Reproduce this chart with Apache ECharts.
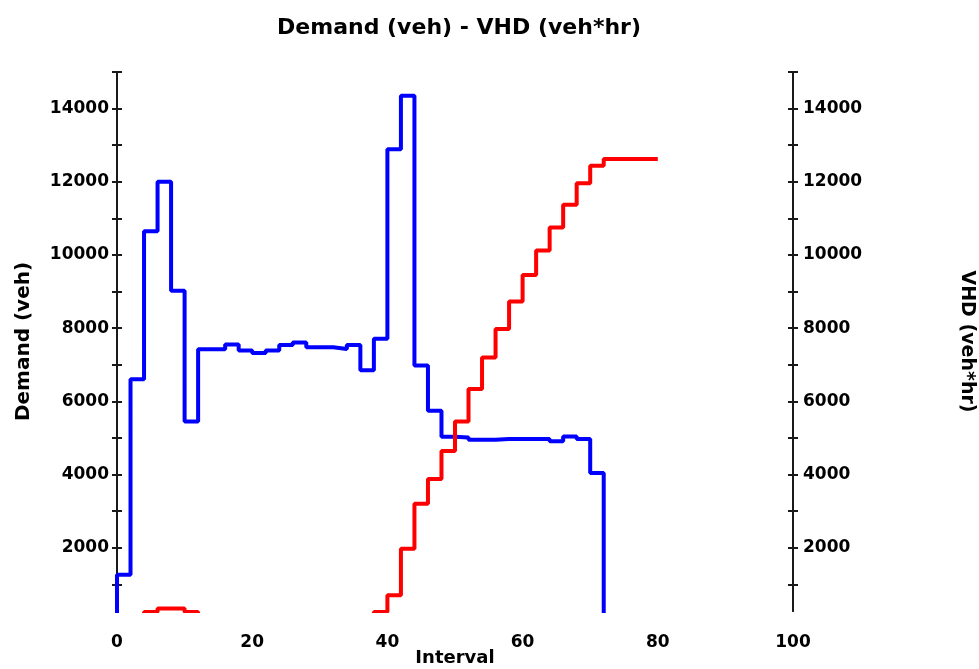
<!DOCTYPE html>
<html>
<head>
<meta charset="utf-8">
<script src="https://cdn.jsdelivr.net/npm/echarts@6/dist/echarts.min.js"></script>
<style>
  html, body { margin: 0; padding: 0; background: #fff; }
  #chart { width: 979px; height: 669px; }
</style>
</head>
<body>
<div id="chart"></div>
<script>
// ---- data ----
const chartTitle = 'Demand (veh) - VHD (veh*hr)';
const xAxisName = 'Interval';
const leftAxisName = 'Demand (veh)';
const rightAxisName = 'VHD (veh*hr)';

const xTicks = [0, 20, 40, 60, 80, 100];
const yTickValues = [1000, 2000, 3000, 4000, 5000, 6000, 7000, 8000, 9000, 10000, 11000, 12000, 13000, 14000, 15000];
const yLabelValues = [2000, 4000, 6000, 8000, 10000, 12000, 14000];

// Demand (veh): step values, each held for two intervals
const demandIntervals = [0, 0, 2, 4, 6, 8, 10, 12, 14, 16, 18, 20, 22, 24, 26, 28, 30, 32, 34, 36, 38, 40, 42, 44, 46, 48, 50, 52, 54, 56, 58, 60, 62, 64, 66, 68, 70, 72];
const demandValues    = [0, 1260, 6600, 10650, 12000, 9020, 5450, 7420, 7420, 7550, 7390, 7320, 7390, 7540, 7610, 7480, 7480, 7430, 7540, 6850, 7710, 12890, 14350, 6980, 5740, 5030, 5010, 4950, 4950, 4970, 4970, 4970, 4970, 4910, 5040, 4970, 4040, 0];

// VHD (veh*hr): cumulative step values
const vhdIntervals = [0, 2, 4, 6, 8, 10, 12, 14, 16, 18, 20, 22, 24, 26, 28, 30, 32, 34, 36, 38, 40, 42, 44, 46, 48, 50, 52, 54, 56, 58, 60, 62, 64, 66, 68, 70, 72, 74, 76, 78, 80];
const vhdValues    = [0, 0, 240, 340, 340, 240, 0, 0, 0, 0, 0, 0, 0, 0, 0, 0, 0, 0, 0, 240, 700, 1970, 3200, 3880, 4640, 5450, 6340, 7200, 7980, 8730, 9450, 10120, 10750, 11370, 11960, 12440, 12620, 12620, 12620, 12620, 12620];

// ---- chart ----
const FONT = 'DejaVu Sans';
const AX = '#1a1a1a';
const yMin = 270, yMax = 15000;

function yAxisBase(position, inside, withLabels, name, nameRotate, nameGap, nameSize) {
  return {
    type: 'value',
    position: position,
    min: yMin,
    max: yMax,
    name: withLabels ? name : '',
    nameLocation: 'middle',
    nameRotate: nameRotate,
    nameGap: nameGap,
    nameMoveOverlap: false,
    nameTextStyle: { fontFamily: FONT, fontWeight: 'bold', fontSize: nameSize, color: '#000' },
    axisLine: { show: true, lineStyle: { color: AX, width: 2 } },
    axisTick: { show: true, inside: inside, length: 5, customValues: yTickValues, lineStyle: { color: AX, width: 2 } },
    axisLabel: {
      show: withLabels, customValues: yLabelValues,
      formatter: v => String(v),
      fontFamily: FONT, fontWeight: 'bold', fontSize: 17, color: '#000',
      margin: position === 'left' ? 8 : 10
    },
    splitLine: { show: false }
  };
}

const chart = echarts.init(document.getElementById('chart'), null, { renderer: 'canvas' });
chart.setOption({
  animation: false,
  backgroundColor: '#fff',
  title: {
    text: chartTitle,
    left: 454,
    textAlign: 'center',
    top: 12,
    textStyle: { fontFamily: FONT, fontWeight: 'bold', fontSize: 22, color: '#000' }
  },
  grid: { left: 117, right: 186, top: 72, bottom: 58, containLabel: false, outerBoundsMode: 'none' },
  xAxis: {
    type: 'value',
    min: 0,
    max: 100,
    interval: 20,
    name: xAxisName,
    nameLocation: 'middle',
    nameGap: 38,
    nameMoveOverlap: false,
    nameTextStyle: { fontFamily: FONT, fontWeight: 'bold', fontSize: 18, color: '#000' },
    axisLine: { show: false },
    axisTick: { show: false },
    axisLabel: { formatter: v => String(v), fontFamily: FONT, fontWeight: 'bold', fontSize: 17, color: '#000', margin: 23 },
    splitLine: { show: false }
  },
  yAxis: [
    yAxisBase('left', false, true, leftAxisName, 90, 83, 20),
    yAxisBase('left', true, false, '', 90, 0, 20),
    yAxisBase('right', false, true, rightAxisName, -90, 164, 19),
    yAxisBase('right', true, false, '', -90, 0, 19)
  ],
  series: [
    {
      name: leftAxisName,
      type: 'line',
      yAxisIndex: 0,
      step: 'end',
      showSymbol: false,
      clip: true,
      lineStyle: { color: '#0000ff', width: 4 },
      itemStyle: { color: '#0000ff' },
      data: demandIntervals.map((x, i) => [x, demandValues[i]])
    },
    {
      name: rightAxisName,
      type: 'line',
      yAxisIndex: 2,
      step: 'end',
      showSymbol: false,
      clip: true,
      lineStyle: { color: '#ff0000', width: 4 },
      itemStyle: { color: '#ff0000' },
      data: vhdIntervals.map((x, i) => [x, vhdValues[i]])
    }
  ]
});
</script>
</body>
</html>
